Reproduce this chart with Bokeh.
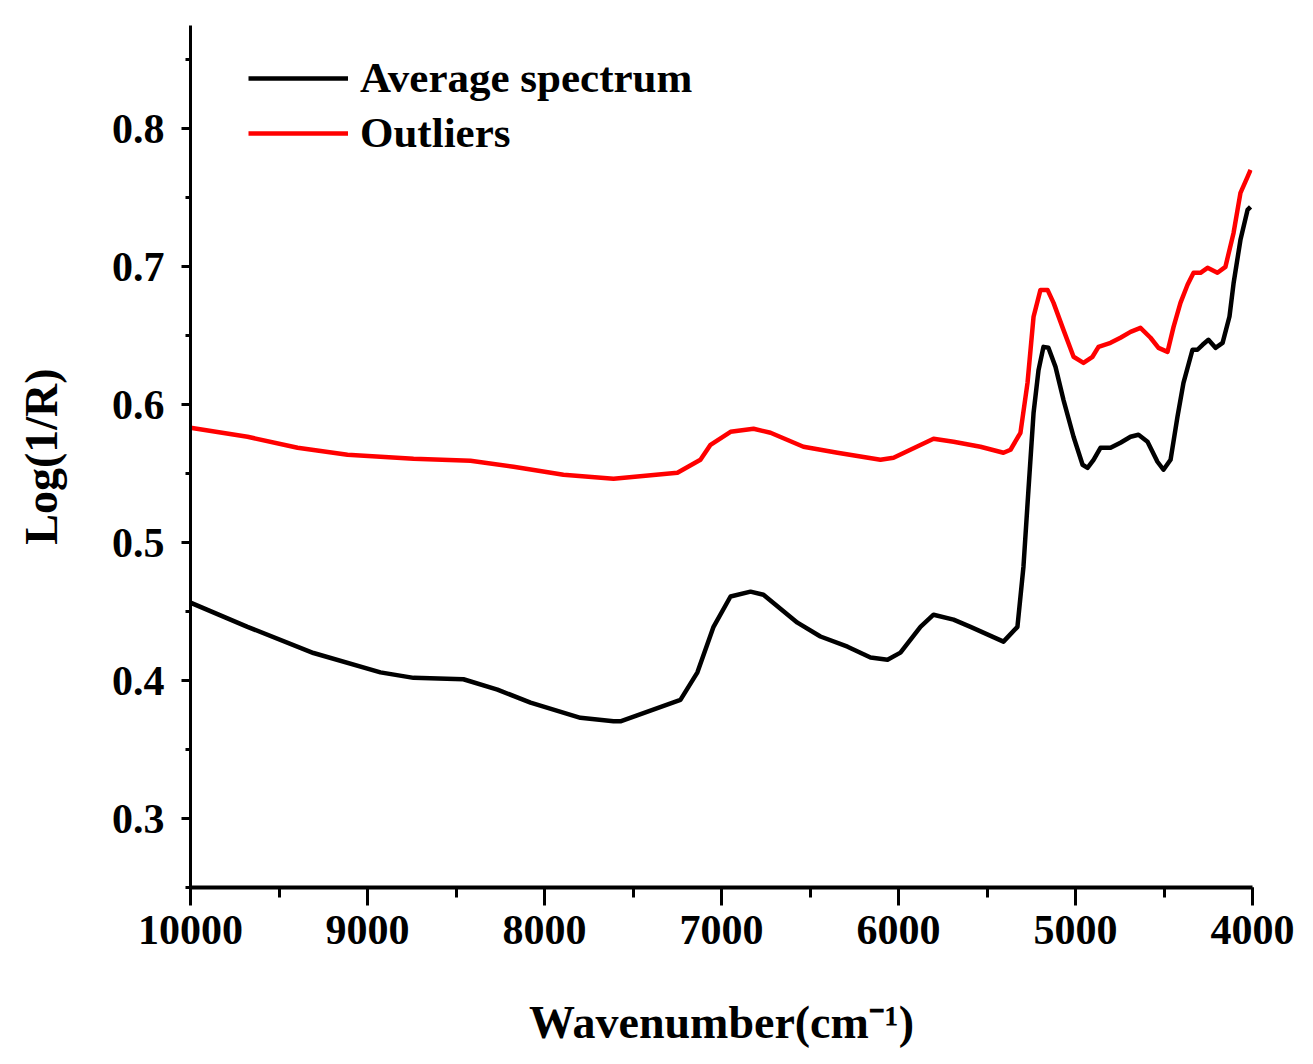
from bokeh.plotting import figure
from bokeh.models import Range1d, SingleIntervalTicker, Legend, LegendItem
from bokeh.embed import file_html
from bokeh.resources import INLINE

# Average spectrum (black)
avg_wn = [10000, 9678, 9305, 8927, 8740, 8458, 8266, 8079, 7797, 7610, 7571, 7232, 7136, 7045,
          6949, 6836, 6763, 6571, 6441, 6288, 6158, 6062, 5989, 5876, 5802, 5689, 5593, 5407,
          5328, 5294, 5266, 5237, 5209, 5181, 5153, 5113, 5068, 5011, 4960, 4932, 4898, 4859,
          4802, 4746, 4689, 4644, 4593, 4537, 4503, 4463, 4424, 4390, 4339, 4311, 4282, 4249,
          4209, 4169, 4130, 4107, 4068, 4028, 4011]
avg_val = [0.4565, 0.439, 0.420, 0.406, 0.402, 0.401, 0.3935, 0.384, 0.373, 0.3705, 0.3705, 0.386,
           0.406, 0.439, 0.461, 0.4645, 0.4623, 0.442, 0.432, 0.4246, 0.4167, 0.4152, 0.4203, 0.439,
           0.4478, 0.4442, 0.439, 0.4283, 0.439, 0.4826, 0.538, 0.594, 0.625, 0.642, 0.6413,
           0.6275, 0.6036, 0.5768, 0.5565, 0.5543, 0.5601, 0.5688, 0.5688, 0.5725, 0.5768, 0.5783,
           0.5732, 0.5587, 0.5529, 0.5601, 0.5913, 0.6159, 0.6399, 0.6399, 0.6435, 0.6471, 0.6413,
           0.6449, 0.664, 0.688, 0.7196, 0.7413, 0.7435]

# Outliers (red)
out_wn = [10000, 9678, 9395, 9113, 8740, 8418, 8175, 7893, 7610, 7249, 7119, 7062, 6949, 6819,
          6723, 6537, 6345, 6102, 6028, 5802, 5689, 5537, 5407, 5367, 5311, 5271, 5237, 5198,
          5158, 5124, 5068, 5011, 4955, 4904, 4870, 4802, 4746, 4689, 4633, 4576, 4531, 4480,
          4446, 4407, 4367, 4333, 4294, 4254, 4198, 4153, 4107, 4068, 4028, 4011]
out_val = [0.5833, 0.5768, 0.5688, 0.5638, 0.5609, 0.5594, 0.5551, 0.5493, 0.5464, 0.5507, 0.5601,
           0.571, 0.5804, 0.5826, 0.5797, 0.5696, 0.5652, 0.5601, 0.5616, 0.5754, 0.5732, 0.5696,
           0.5652, 0.5674, 0.5797, 0.616, 0.6638, 0.6833, 0.6833, 0.6739, 0.6543, 0.6348, 0.6304,
           0.6348, 0.642, 0.6449, 0.6486, 0.6529, 0.6558, 0.6486, 0.6413, 0.6384, 0.6565, 0.6739,
           0.687, 0.6957, 0.6957, 0.6993, 0.6957, 0.700, 0.7246, 0.7536, 0.7652, 0.7703]

series_names = ["Average spectrum", "Outliers"]

FONT = "Liberation Serif"

p = figure(width=1305, height=1056, output_backend="svg", toolbar_location=None,
           x_range=Range1d(10000, 4000), y_range=Range1d(0.25, 0.875),
           min_border_left=190, min_border_top=25, min_border_right=53, min_border_bottom=169,
           x_axis_label="Wavenumber(cm\u207b\u00b9)", y_axis_label="Log(1/R)")
p.outline_line_color = None
p.xgrid.visible = False
p.ygrid.visible = False
p.background_fill_color = "white"
p.border_fill_color = "white"

r1 = p.line(avg_wn, avg_val, line_color="black", line_width=4.5, line_join="round")
r2 = p.line(out_wn, out_val, line_color="#ff0000", line_width=4.5, line_join="round")

p.xaxis.ticker = SingleIntervalTicker(interval=1000, num_minor_ticks=2)
p.yaxis.ticker = SingleIntervalTicker(interval=0.1, num_minor_ticks=2)

for ax in (p.xaxis[0], p.yaxis[0]):
    ax.axis_line_color = "black"
    ax.major_tick_line_color = "black"
    ax.minor_tick_line_color = "black"
    ax.major_tick_in = 0
    ax.minor_tick_in = 0
    ax.major_tick_line_width = 3
    ax.minor_tick_line_width = 3
    ax.major_label_text_font = FONT
    ax.major_label_text_font_style = "bold"
    ax.major_label_text_font_size = "42px"
    ax.major_label_text_color = "black"
    ax.axis_label_text_font = FONT
    ax.axis_label_text_font_style = "bold"
    ax.axis_label_text_font_size = "46px"
    ax.axis_label_text_color = "black"

p.xaxis.axis_line_width = 4
p.yaxis.axis_line_width = 3
p.xaxis.major_tick_out = 18
p.xaxis.minor_tick_out = 10
p.yaxis.major_tick_out = 9
p.yaxis.minor_tick_out = 5
p.xaxis.major_label_standoff = 10
p.yaxis.major_label_standoff = 17
p.xaxis.axis_label_standoff = 50
p.yaxis.axis_label_standoff = 42

legend = Legend(items=[LegendItem(label=series_names[0], renderers=[r1]),
                       LegendItem(label=series_names[1], renderers=[r2])],
                location=(58, 730), glyph_width=100, glyph_height=44, label_height=44,
                spacing=6, padding=0, margin=0, label_standoff=12,
                label_text_font=FONT, label_text_font_style="bold",
                label_text_font_size="43px", label_text_color="black",
                border_line_color=None, background_fill_alpha=0)
p.add_layout(legend)

open("out.html", "w").write(file_html(p, INLINE))
